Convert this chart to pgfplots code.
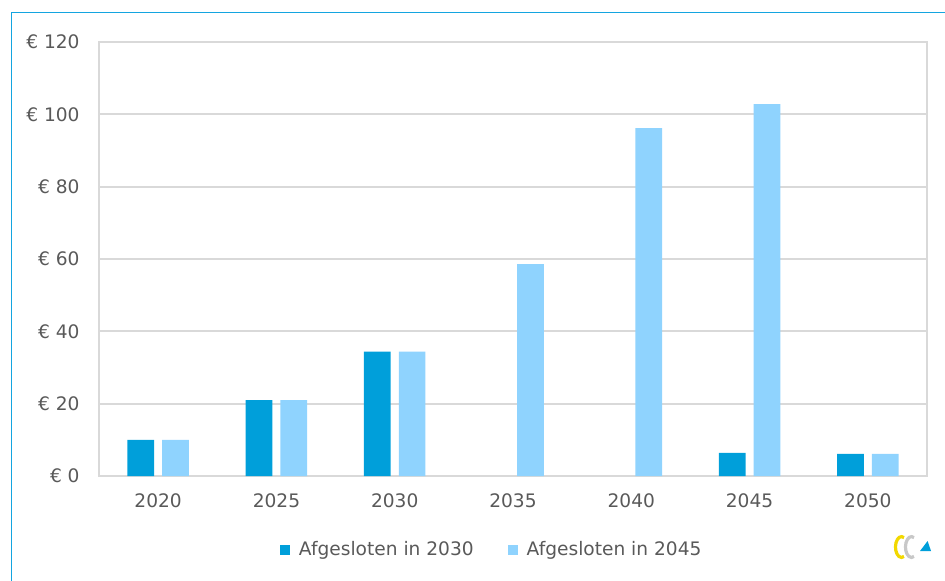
\documentclass[border=0pt]{standalone}
\usepackage{pgfplots}
\pgfplotsset{compat=1.18}
\usepackage{fontspec}
\setmainfont{DejaVu Sans}
\definecolor{darkbar}{HTML}{009FDA}
\definecolor{lightbar}{HTML}{8FD3FE}
\definecolor{gridgrey}{HTML}{D9D9D9}
\definecolor{txtgrey}{HTML}{595959}
\definecolor{framecol}{HTML}{14A5E0}
\definecolor{logoyel}{HTML}{F2D800}
\definecolor{logogrey}{HTML}{C8C8C8}

\begin{document}
\begin{tikzpicture}
\useasboundingbox (0pt,0pt) rectangle (472.5pt,290pt);
% outer frame (right and bottom edges fall outside the picture)
\draw[framecol, line width=0.8pt] (5.75pt,-2pt) -- (5.75pt,283.75pt) -- (475pt,283.75pt);

\begin{axis}[
  at={(49.5pt,52pt)}, anchor=south west,
  scale only axis, width=414pt, height=217pt,
  xmin=-0.5, xmax=6.5, ymin=0, ymax=120,
  xtick={0,1,2,3,4,5,6},
  xticklabels={2020,2025,2030,2035,2040,2045,2050},
  ytick={0,20,40,60,80,100,120},
  yticklabels={€ 0,€ 20,€ 40,€ 60,€ 80,€ 100,€ 120},
  major tick length=0pt,
  ymajorgrids, grid style={gridgrey, line width=0.85pt},
  axis line style={gridgrey, line width=0.85pt},
  font=\fontsize{9.3}{11}\selectfont,
  ticklabel style={txtgrey, inner sep=0pt},
  xticklabel style={yshift=-8.5pt},
  yticklabel style={xshift=-9.5pt},
  ybar, bar width=13.35pt,
  legend style={at={(0.4755,-0.1705)}, anchor=center, draw=none, fill=none,
    text=txtgrey, font=\fontsize{9.3}{11}\selectfont, inner sep=0pt,
    /tikz/every odd column/.append style={column sep=2.5pt},
    /tikz/every even column/.append style={column sep=15pt}},
  legend columns=2,
  legend cell align=left,
  legend image code/.code={\fill[#1] (0pt,-2.5pt) rectangle (5pt,2.5pt);},
]
\addplot[draw=none, fill=darkbar, bar shift=-8.7pt] coordinates {
  (0,10) (1,21) (2,34.4) (5,6.4) (6,6.1)
};
\addplot[draw=none, fill=lightbar, bar shift=8.7pt] coordinates {
  (0,10) (1,21) (2,34.4) (3,58.6) (4,96.2) (5,102.8) (6,6.1)
};
\legend{Afgesloten in 2030, Afgesloten in 2045}
\end{axis}

% logo
\draw[logoyel, line width=1.6pt] (452pt,21.2pt) arc[start angle=65, end angle=295, x radius=3pt, y radius=5.2pt];
\draw[logogrey, line width=1.6pt] (457pt,21.2pt) arc[start angle=65, end angle=295, x radius=3pt, y radius=5.2pt];
\fill[darkbar] (460pt,14.5pt) -- (465.5pt,14.5pt) -- (463.8pt,19.5pt) -- cycle;
\end{tikzpicture}
\end{document}
